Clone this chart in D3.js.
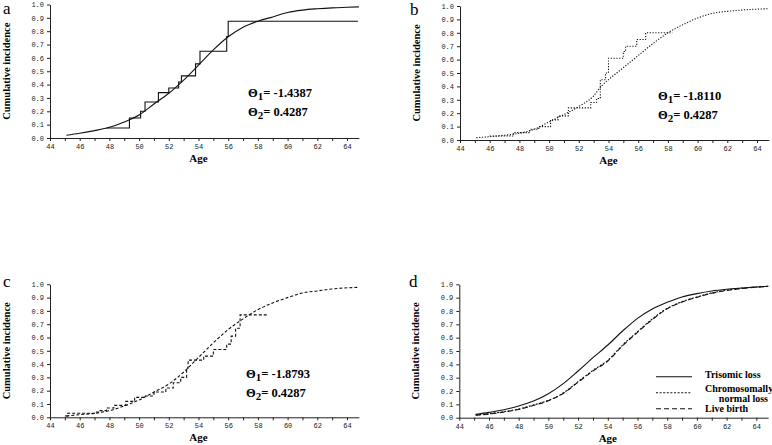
<!DOCTYPE html>
<html>
<head>
<meta charset="utf-8">
<script src="https://cdn.jsdelivr.net/npm/d3@7.9.0/dist/d3.min.js"></script>
<style>
  body { margin: 0; background: #fff; }
  svg { display: block; }
  .tick text { font-family: "Liberation Mono", monospace; font-size: 7px; fill: #222; }
  .domain, .tick line { stroke: #222; }
</style>
</head>
<body>
<div id="vis"></div>
<script>
const width = 772, height = 445;

const ageTicks = d3.range(44, 65);
const yTicks = d3.range(0, 11).map(d => d / 10);

// panel a
const fitA = [[45.1,0.02],[46,0.035],[47,0.055],[48,0.08],[49,0.12],[50,0.172],[51,0.255],[52,0.335],[53,0.434],[54,0.546],[55,0.66],[56,0.758],[57,0.83],[58,0.875],[59,0.907],[60,0.94],[61,0.958],[62,0.968],[63,0.975],[64,0.979],[64.8,0.982]];
const stepA = [[47.8,0.075],[49.35,0.15],[50.1,0.2],[50.4,0.27],[51.3,0.34],[52.0,0.375],[52.66,0.42],[52.85,0.465],[53.8,0.555],[54.1,0.65],[55.9,0.76],[56.0,0.875],[64.7,0.87]];
// panel b
const fitB = [[45.1,0.017],[46,0.025],[47,0.035],[48,0.05],[49,0.08],[50,0.135],[51,0.19],[52,0.25],[53,0.33],[53.5,0.4],[54,0.45],[55,0.54],[56,0.63],[57,0.72],[58,0.8],[59,0.86],[60,0.91],[61,0.945],[62,0.96],[63,0.97],[64.8,0.98]];
const stepB = [[46.0,0.03],[47.6,0.055],[48.7,0.08],[49.3,0.1],[50.1,0.15],[50.6,0.18],[51.3,0.24],[52.8,0.28],[53.2,0.31],[53.45,0.45],[53.8,0.5],[54.0,0.61],[55.0,0.66],[55.15,0.7],[55.9,0.75],[56.5,0.8],[58.3,0.8]];
// panel c
const fitC = [[45.1,0.01],[46,0.02],[47,0.03],[48,0.05],[49,0.085],[50,0.13],[51,0.19],[52,0.25],[53,0.34],[54,0.45],[55,0.56],[56,0.66],[57,0.74],[58,0.81],[59,0.86],[60,0.9],[61,0.935],[62,0.95],[63,0.965],[64.8,0.977]];
const stepC = [[45.0,0.01],[45.2,0.03],[47.0,0.04],[47.3,0.05],[47.8,0.07],[48.3,0.09],[49.1,0.12],[49.7,0.15],[50.3,0.16],[51.0,0.19],[51.8,0.22],[52.3,0.26],[52.8,0.3],[53.2,0.37],[53.3,0.43],[54.35,0.46],[55.0,0.51],[55.9,0.55],[56.2,0.61],[56.5,0.67],[56.8,0.77],[58.6,0.77]];
// panel d
const trisomic = [[45.1,0.025],[46,0.04],[47,0.06],[48,0.088],[49,0.125],[50,0.18],[51,0.255],[52,0.35],[53,0.45],[54,0.545],[55,0.65],[56,0.745],[57,0.815],[58,0.865],[59,0.905],[60,0.93],[61,0.95],[62,0.963],[63,0.972],[64.8,0.985]];
const normalLoss = [[45.1,0.02],[46,0.03],[47,0.045],[48,0.065],[49,0.095],[50,0.13],[51,0.185],[52,0.27],[53,0.355],[54,0.43],[55,0.545],[56,0.645],[57,0.74],[58,0.82],[59,0.87],[60,0.905],[61,0.935],[62,0.955],[63,0.97],[64.8,0.985]];
const liveBirth = [[45.1,0.018],[46,0.027],[47,0.042],[48,0.062],[49,0.092],[50,0.127],[51,0.182],[52,0.266],[53,0.35],[54,0.425],[55,0.54],[56,0.64],[57,0.736],[58,0.816],[59,0.867],[60,0.902],[61,0.933],[62,0.953],[63,0.968],[64.8,0.984]];

const legendLabels = ["Trisomic loss", "Chromosomally", "Live birth"];

const svg = d3.select("#vis").append("svg")
    .attr("width", width)
    .attr("height", height);

function panel(opts) {
  const x = d3.scaleLinear().domain([44, 64.8]).range([opts.left, opts.left + 20.8 * 14.85]);
  const y = d3.scaleLinear().domain([0, 1]).range([opts.bottom, opts.top]);
  const g = svg.append("g");

  g.append("g")
    .attr("transform", `translate(0,${opts.bottom})`)
    .call(d3.axisBottom(x).tickValues(ageTicks).tickSize(3).tickSizeOuter(0).tickPadding(3)
      .tickFormat(d => d % 2 === 0 ? d : ""));
  g.append("g")
    .attr("transform", `translate(${opts.left},0)`)
    .call(d3.axisLeft(y).tickValues(yTicks).tickSize(3).tickSizeOuter(0).tickPadding(3)
      .tickFormat(d3.format(".1f")));

  g.append("text")
    .attr("transform", `translate(${opts.left - 40},${(opts.top + opts.bottom) / 2}) rotate(-90)`)
    .attr("text-anchor", "middle")
    .attr("font-family", "Liberation Serif").attr("font-weight", "bold").attr("font-size", 10.5)
    .text("Cumulative incidence");
  g.append("text")
    .attr("x", x(54)).attr("y", opts.bottom + 24)
    .attr("text-anchor", "middle")
    .attr("font-family", "Liberation Serif").attr("font-weight", "bold").attr("font-size", 11)
    .text("Age");
  g.append("text")
    .attr("x", opts.letterX).attr("y", opts.letterY)
    .attr("font-family", "Liberation Serif").attr("font-size", 17)
    .text(opts.letter);

  const smooth = d3.line().x(d => x(d[0])).y(d => y(d[1])).curve(d3.curveMonotoneX);
  const step = d3.line().x(d => x(d[0])).y(d => y(d[1])).curve(d3.curveStepAfter);

  (opts.curves || []).forEach(c => {
    g.append("path")
      .attr("d", (c.step ? step : smooth)(c.data))
      .attr("fill", "none").attr("stroke", "#111")
      .attr("stroke-width", c.w || 1.1)
      .attr("stroke-dasharray", c.dash || null);
  });

  if (opts.theta) {
    opts.theta.forEach((v, i) => {
      const t = g.append("text")
        .attr("x", opts.thetaX).attr("y", opts.thetaY + i * 19)
        .attr("font-family", "Liberation Serif").attr("font-weight", "bold").attr("font-size", 12.5);
      t.append("tspan").text("\u0398");
      t.append("tspan").attr("dy", 3).attr("font-size", 11).text(i + 1);
      t.append("tspan").attr("dy", -3).text("= " + v);
    });
  }
  return { x, y, g };
}

panel({ left: 50, top: 4.5, bottom: 138, letter: "a", letterX: 3, letterY: 14,
  curves: [{ data: fitA }, { data: stepA, step: true }],
  theta: ["-1.4387", "0.4287"], thetaX: 248, thetaY: 97 });

panel({ left: 460, top: 6, bottom: 140, letter: "b", letterX: 410, letterY: 15,
  curves: [{ data: fitB, dash: "1.2,1.6" }, { data: stepB, step: true, dash: "1.2,1.6" }],
  theta: ["-1.8110", "0.4287"], thetaX: 658, thetaY: 100 });

panel({ left: 50, top: 284.3, bottom: 417.3, letter: "c", letterX: 3, letterY: 287,
  curves: [{ data: fitC, dash: "3,2" }, { data: stepC, step: true, dash: "3,2" }],
  theta: ["-1.8793", "0.4287"], thetaX: 246, thetaY: 378 });

const pd = panel({ left: 459.3, top: 284.3, bottom: 417.7, letter: "d", letterX: 409, letterY: 287,
  curves: [{ data: trisomic }, { data: normalLoss, dash: "2,1.6" }, { data: liveBirth, dash: "5,3" }] });

// legend for panel d
const legendDash = [null, "2,1.6", "5,3"];
const legendY = [376.7, 392.7, 408.7];
const legendTextY = [378, 392, 412];
legendLabels.forEach((lab, i) => {
  pd.g.append("line")
    .attr("x1", 656).attr("x2", 692).attr("y1", legendY[i]).attr("y2", legendY[i])
    .attr("stroke", "#111").attr("stroke-width", 1.1)
    .attr("stroke-dasharray", legendDash[i]);
  pd.g.append("text")
    .attr("x", 705).attr("y", legendTextY[i])
    .attr("font-family", "Liberation Serif").attr("font-weight", "bold").attr("font-size", 10)
    .text(lab);
});
pd.g.append("text")
  .attr("x", 768).attr("y", 402)
  .attr("text-anchor", "end")
  .attr("font-family", "Liberation Serif").attr("font-weight", "bold").attr("font-size", 10)
  .text("normal loss");
</script>
</body>
</html>
